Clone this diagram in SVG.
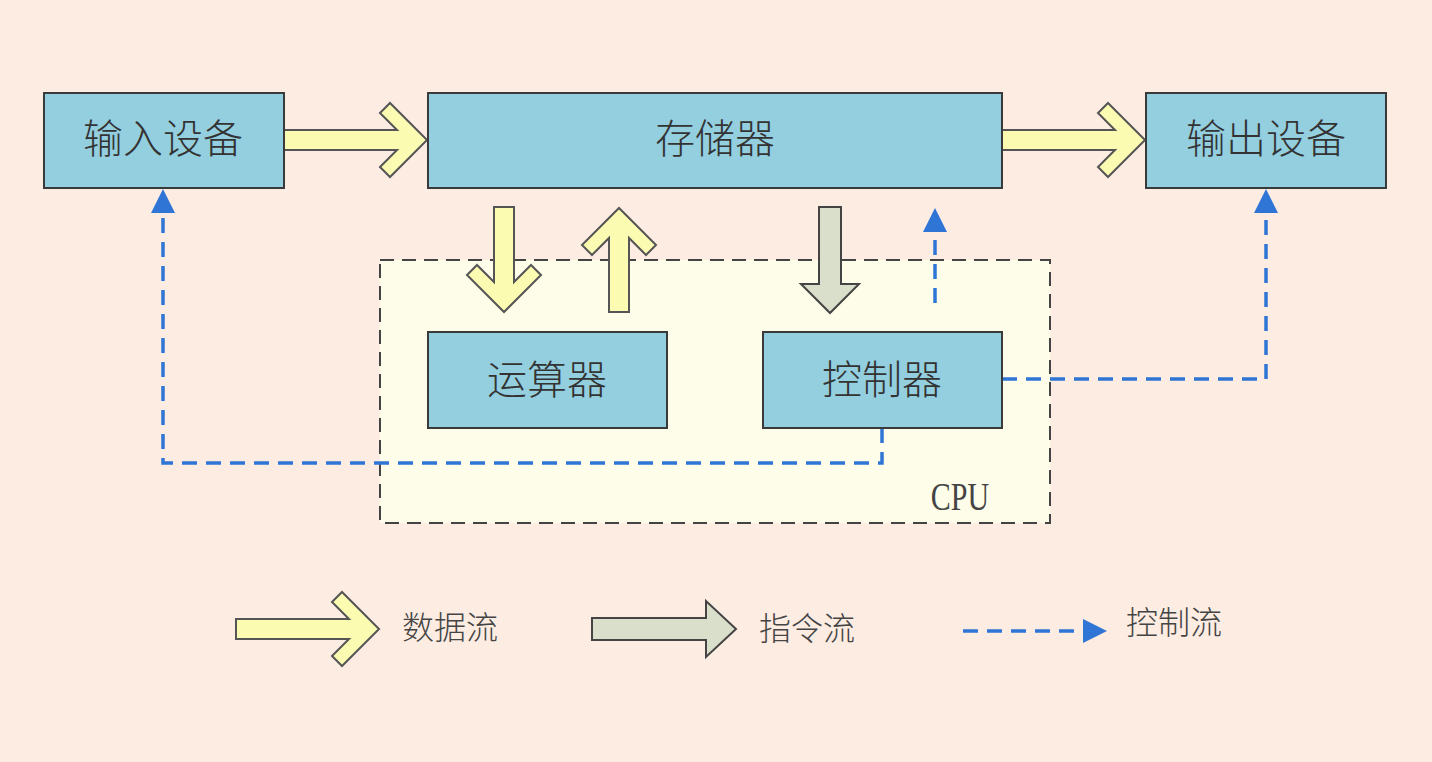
<svg xmlns="http://www.w3.org/2000/svg" width="1432" height="762" viewBox="0 0 1432 762">
<style>
.box{fill:#93cfdf;stroke:#3a3a3a;stroke-width:2}
.lbl{font-family:"Noto Sans CJK SC","Noto Sans",sans-serif;font-size:40px;font-weight:300;fill:#333;text-anchor:middle;dominant-baseline:central}
.leg{font-family:"Noto Sans CJK SC","Noto Sans",sans-serif;font-size:32px;font-weight:300;fill:#444;dominant-baseline:central}
.data{fill:#fbfbb2;stroke:#555;stroke-width:2;stroke-linejoin:miter}
.instr{fill:#d9dfca;stroke:#444;stroke-width:2}
.ctl{fill:none;stroke:#2f75d6;stroke-width:3.5;stroke-dasharray:15 9}
.head{fill:#2f75d6}
</style>
<rect x="0" y="0" width="1432" height="762" fill="#fcece2"/>
<g id="cpu">
<rect x="380" y="260" width="670" height="263" fill="#fefde9" stroke="#444" stroke-width="2" stroke-dasharray="14 8"/>
<text transform="translate(960,510) scale(1,1.3)" font-family="Liberation Serif,serif" font-size="30" fill="#444" text-anchor="middle">CPU</text>
</g>
<g id="connectors">
<polygon class="data" points="284,130 397,130 380,113 390,103 427,140 390,177 380,167 397,150 284,150"/>
<polygon class="data" points="1002,130 1115,130 1098,113 1108,103 1145,140 1108,177 1098,167 1115,150 1002,150"/>
<polygon class="data" points="494,207 514,207 514,282 531,265 541,275 504,312 467,275 477,265 494,282"/>
<polygon class="data" points="609,312 629,312 629,238 646,255 656,245 619,208 582,245 592,255 609,238"/>
<polygon class="instr" points="819,207 841,207 841,284 859,284 830,313 801,284 819,284"/>
<path class="ctl" d="M935,303 V232"/>
<polygon class="head" points="935,208 947,232 923,232"/>
<path class="ctl" d="M882,428 V463 H163 V213"/>
<polygon class="head" points="163,189 175,213 151,213"/>
<path class="ctl" d="M1002,379 H1266 V213"/>
<polygon class="head" points="1266,189 1278,213 1254,213"/>
</g>
<g id="input"><rect class="box" x="44" y="93" width="240" height="95"/><text class="lbl" x="163" y="136">输入设备</text></g>
<g id="memory"><rect class="box" x="428" y="93" width="574" height="95"/><text class="lbl" x="715" y="136">存储器</text></g>
<g id="output"><rect class="box" x="1146" y="93" width="240" height="95"/><text class="lbl" x="1266" y="136">输出设备</text></g>
<g id="alu"><rect class="box" x="428" y="332" width="239" height="96"/><text class="lbl" x="547" y="377">运算器</text></g>
<g id="controller"><rect class="box" x="763" y="332" width="239" height="96"/><text class="lbl" x="882" y="377">控制器</text></g>
<g id="legend">
<polygon class="data" points="236,619 349,619 332,602 342,592 379,629 342,666 332,656 349,639 236,639"/>
<text class="leg" x="402" y="625">数据流</text>
<polygon class="instr" points="592,618 706,618 706,601 736,629 706,657 706,640 592,640"/>
<text class="leg" x="759" y="626">指令流</text>
<path class="ctl" d="M963,631 H1083"/>
<polygon class="head" points="1107,631 1083,619 1083,643"/>
<text class="leg" x="1126" y="620">控制流</text>
</g>
</svg>
